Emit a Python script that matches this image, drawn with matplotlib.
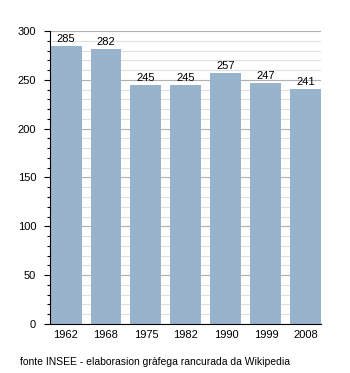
#!/usr/bin/env python

# Bar chart of population by census year

import matplotlib
matplotlib.use('Agg')
import matplotlib.pyplot as plt
from matplotlib.ticker import MultipleLocator

years = ['1962', '1968', '1975', '1982', '1990', '1999', '2008']
population = [285, 282, 245, 245, 257, 247, 241]

plt.rcParams['font.family'] = ['Liberation Sans', 'DejaVu Sans']

fig = plt.figure(figsize=(3.5, 3.73), dpi=100, facecolor='white')
ax = fig.add_axes([0.1429, 0.1314, 0.774, 0.7855])

x = list(range(len(years)))
ax.bar(x, population, width=0.775, color='#9ab3cc', zorder=2)
for xi, v in zip(x, population):
    ax.text(xi, v + 2, str(v), ha='center', va='bottom', fontsize=8,
            color='black', zorder=3)

ax.set_xlim(-0.4, 6.375)
ax.set_ylim(0, 300)
ax.set_xticks(x)
ax.set_xticklabels(years)
ax.yaxis.set_major_locator(MultipleLocator(50))
ax.yaxis.set_minor_locator(MultipleLocator(10))

# Grid: darker every 50, lighter every 10
ax.grid(which='major', axis='y', color='#b0b0b0', linewidth=0.8, zorder=0)
ax.grid(which='minor', axis='y', color='#e0e0e0', linewidth=0.8, zorder=0)

for side in ('top', 'right'):
    ax.spines[side].set_visible(False)
ax.spines['left'].set_linewidth(0.8)
ax.spines['bottom'].set_linewidth(0.8)
ax.spines['left'].set_zorder(4)
ax.spines['bottom'].set_zorder(4)

ax.tick_params(axis='y', which='major', length=4, width=0.8, labelsize=8, pad=6)
ax.tick_params(axis='y', which='minor', length=2.5, width=0.8)
ax.tick_params(axis='x', length=0, labelsize=8, pad=4)

fig.text(20 / 350, 1 - 362 / 373, 'fonte INSEE - elaborasion gràfega rancurada da Wikipedia',
         fontsize=7.45, ha='left', va='center')

fig.savefig('out.png', dpi=100)
